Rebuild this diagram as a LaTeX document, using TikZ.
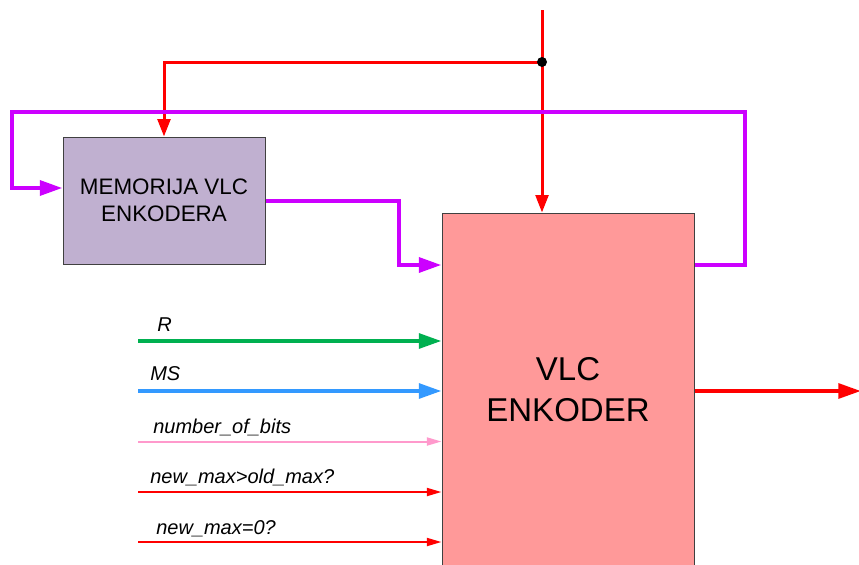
\documentclass[tikz,border=0pt]{standalone}
\usepackage{fontspec}
\setmainfont{Liberation Sans}
\usetikzlibrary{arrows.meta}
\definecolor{memfill}{HTML}{C0B0D0}
\definecolor{encfill}{HTML}{FF9999}
\definecolor{sigred}{HTML}{FF0000}
\definecolor{siggreen}{HTML}{00B050}
\definecolor{sigblue}{HTML}{3399FF}
\definecolor{sigpink}{HTML}{FF99CC}
\definecolor{sigmag}{HTML}{CC00FF}

\begin{document}
\begin{tikzpicture}[
    x=0.75pt, y=-0.75pt,
    block/.style={
        draw=black!75,
        line width=0.75pt,
        align=center,
        inner sep=0pt
    },
    memblock/.style={block, fill=memfill, minimum width=151.5pt, minimum height=95.25pt,
        font=\fontsize{16.8}{20}\selectfont},
    encblock/.style={block, fill=encfill, minimum width=189pt, minimum height=265.5pt,
        font=\fontsize{24.75}{30.75}\selectfont},
    bigarrow/.style={line width=3pt, -{Triangle[length=17pt,width=11pt]}},
    midarrow/.style={line width=2.25pt, -{Triangle[length=13pt,width=9.5pt]}},
    thinarrow/.style={line width=1.5pt, -{Triangle[length=11pt,width=6pt]}},
    siglabel/.style={anchor=base west, inner sep=0pt, font=\itshape\fontsize{15}{18}\selectfont}
]
\useasboundingbox (0,0) rectangle (859,564);
\clip (0,0) rectangle (859,564);

\node[memblock] (mem) at (164,200.5) {MEMORIJA VLC\\ENKODERA};
\node[encblock] (enc) at (568,390) {VLC\\ENKODER};

\coordinate (top) at (542,10);
\coordinate (split) at (542,62);
\draw[midarrow, sigred] (top) -- (top |- enc.north);
\draw[midarrow, sigred] (split) -| (mem.north);
\fill (split) circle[radius=3.75pt];

\draw[bigarrow, sigmag, line width=3.2pt] (enc.east |- 0,265) -- (745,265) -- (745,112) -- (12,112) -- (12,188) -- (mem.west |- 0,188);
\draw[bigarrow, sigmag, line width=3.2pt] (mem.east |- 0,201) -| (399,265) -- (enc.west |- 0,265);

\coordinate (inR) at (138,341);
\coordinate (inMS) at (138,391);
\coordinate (inBits) at (138,441.5);
\coordinate (inGt) at (138,492);
\coordinate (inZero) at (138,542);
\draw[bigarrow, siggreen] (inR) -- (inR -| enc.west);
\draw[bigarrow, sigblue] (inMS) -- (inMS -| enc.west);
\draw[thinarrow, sigpink] (inBits) -- (inBits -| enc.west);
\draw[thinarrow, sigred] (inGt) -- (inGt -| enc.west);
\draw[thinarrow, sigred] (inZero) -- (inZero -| enc.west);

\node[siglabel] (lR) at (157,331) {R};
\node[siglabel] (lMS) at (150,380) {MS};
\node[siglabel] (lBits) at (153,433) {number\_of\_bits};
\node[siglabel] (lGt) at (150,483) {new\_max>old\_max?};
\node[siglabel] (lZero) at (156,534) {new\_max=0?};

\coordinate (out) at (861,391);
\draw[bigarrow, sigred] (enc.east |- out) -- (out);

\end{tikzpicture}
\end{document}
